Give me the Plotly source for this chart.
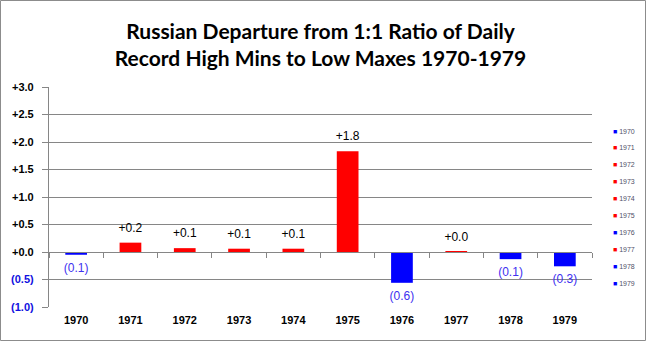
import plotly.graph_objects as go

years = ['1970', '1971', '1972', '1973', '1974', '1975', '1976', '1977', '1978', '1979']
values = [-0.05, 0.17, 0.07, 0.06, 0.06, 1.83, -0.56, 0.01, -0.13, -0.26]
ytick_vals = [3.0, 2.5, 2.0, 1.5, 1.0, 0.5, 0.0, -0.5, -1.0]

POS = '#FF0000'
NEG = '#0000FF'
colors = [POS if v >= 0 else NEG for v in values]

def fmt(v):
    return ('+' + format(v, '.1f')) if v >= 0 else '(' + format(abs(v), '.1f') + ')'

def tickfmt(v):
    if v >= 0:
        return '+' + format(v, '.1f') + '  '
    return "<span style='color:#1010E0'>(" + format(abs(v), '.1f') + ")</span>  "

W, H = 647, 341
L, R, T, B = 49, 55, 87, 34
pw, ph = W - L - R, H - T - B

fig = go.Figure()
fig.add_trace(go.Bar(x=years, y=values, marker=dict(color=colors, line=dict(width=0)),
                     showlegend=False, hoverinfo='x+y'))

# data labels
fig.add_trace(go.Scatter(
    x=years, y=values, mode='markers+text', text=[fmt(v) for v in values],
    textposition=['top center' if v >= 0 else 'bottom center' for v in values],
    marker=dict(size=11, color='rgba(0,0,0,0)'),
    textfont=dict(family='Liberation Sans', size=12,
                  color=['#000000' if v >= 0 else '#4030F0' for v in values]),
    showlegend=False, hoverinfo='skip', cliponaxis=False))

# legend drawn as a column of entries
for i, (yr, c) in enumerate(zip(years, colors)):
    fig.add_annotation(xref='paper', yref='paper',
                       x=(611 - L) / pw, y=(307 - (131 + i * 16.9)) / ph,
                       xanchor='left', yanchor='middle', showarrow=False,
                       text="<span style='color:%s'>■</span> %s" % (c, yr),
                       font=dict(family='Liberation Sans', size=7, color='#505068'))

fig.add_shape(type='rect', xref='paper', yref='paper',
              x0=(-L + 0.5) / pw, x1=1 + (R - 1.5) / pw,
              y0=(-B + 0.5) / ph, y1=1 + (T - 0.5) / ph,
              line=dict(color='#8C8C8C', width=1))

fig.update_layout(
    width=W, height=H,
    margin=dict(l=L, r=R, t=T, b=B, pad=0),
    paper_bgcolor='white', plot_bgcolor='white',
    title=dict(text='Russian Departure from 1:1 Ratio of Daily<br>Record High Mins to Low Maxes 1970-1979',
               x=0.5, xref='paper', xanchor='center', y=1 - 39 / H, yanchor='middle',
               font=dict(family='Lato', size=21, color='#000000', weight='bold')),
    barmode='relative', bargap=0.6,
    showlegend=False,
    xaxis=dict(type='category', categoryarray=years, range=[-0.5, 9.5],
               anchor='free', position=0.25, showline=True, linecolor='#868686', linewidth=1,
               ticks='outside', tickson='boundaries', ticklen=5, tickcolor='#868686',
               showgrid=False, ticklabelstandoff=58,
               tickfont=dict(family='Liberation Sans', size=11, color='#000000', weight='bold')),
    yaxis=dict(range=[-1, 3], tickvals=ytick_vals, ticktext=[tickfmt(v) for v in ytick_vals],
               showline=True, linecolor='#868686', linewidth=1, ticks='outside', ticklen=6,
               tickcolor='#868686', showgrid=True, gridcolor='#868686', gridwidth=1,
               zeroline=False,
               tickfont=dict(family='Liberation Sans', size=11, color='#000000', weight='bold')),
)

fig.write_html('out.html')
